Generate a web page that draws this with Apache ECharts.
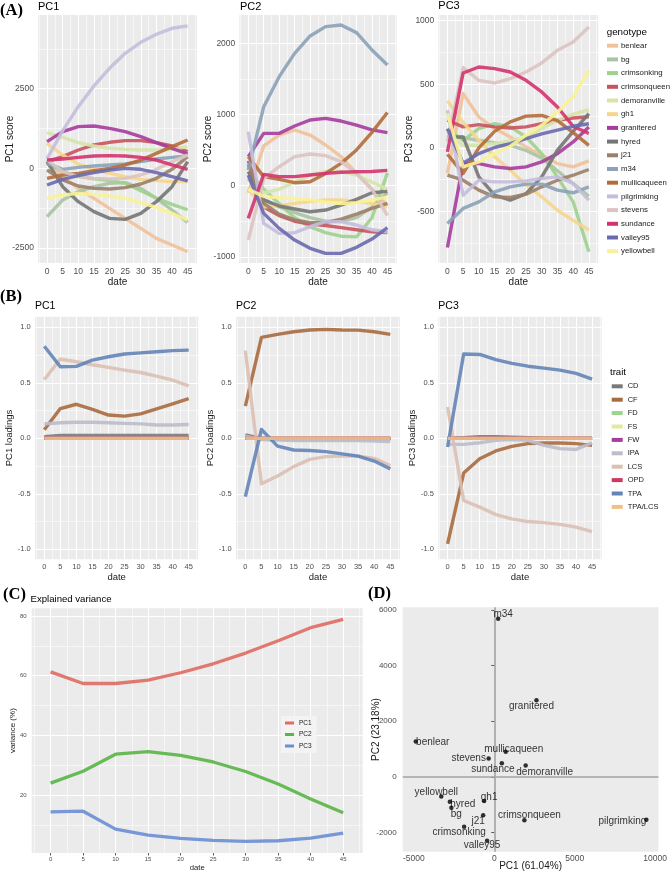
<!DOCTYPE html>
<html><head><meta charset="utf-8">
<script src="https://cdn.jsdelivr.net/npm/echarts@6/dist/echarts.min.js"></script>
<style>html,body{margin:0;padding:0;background:#fff}#c{width:670px;height:873px}</style>
</head><body><div id="c"></div><script>
// ---------- DATA ----------
const dates = [0, 5, 10, 15, 20, 25, 30, 35, 40, 45];
const genotypes = ['benlear','bg','crimsonking','crimsonqueen','demoranville','gh1','granitered','hyred','j21','m34','mullicaqueen','pilgrimking','stevens','sundance','valley95','yellowbell'];
// PC scores, one row per genotype (same order as genotypes)
const scorePC1 = [
  [209, -262, -628, -941, -1255, -1569, -1883, -2197, -2406, -2615],
  [-1517, -994, -732, -575, -470, -450, -628, -941, -1307, -1694],
  [150, -100, -250, -330, -380, -470, -700, -930, -1130, -1300],
  [209, 366, 575, 732, 816, 868, 868, 805, 700, 523],
  [1119, 973, 805, 700, 628, 596, 575, 575, 596, 680],
  [784, 418, 136, -31, -157, -262, -345, -387, -418, -418],
  [837, 1150, 1307, 1328, 1255, 1150, 994, 805, 628, 450],
  [209, -575, -1046, -1360, -1569, -1600, -1412, -1046, -575, 209],
  [-52, -366, -554, -628, -648, -607, -491, -314, -31, 366],
  [157, -31, 31, 73, 105, 136, 209, 293, 345, 387],
  [-314, -209, -157, -73, 0, 105, 261, 471, 680, 889],
  [300, 1182, 1935, 2584, 3138, 3609, 3954, 4205, 4393, 4470],
  [261, -105, -262, -314, -335, -314, -209, -31, 209, 418],
  [261, 293, 345, 387, 397, 387, 345, 261, 105, -31],
  [-523, -345, -230, -136, -52, 0, -31, -136, -262, -397],
  [-941, -837, -785, -816, -868, -941, -1077, -1224, -1412, -1621]
];
const scorePC2 = [
  [-100, 560, 712, 783, 712, 572, 408, 173, -50, -280],
  [100, -200, -300, -380, -450, -500, -500, -450, -300, -100],
  [200, -50, -250, -450, -580, -660, -710, -720, -450, 180],
  [350, -300, -420, -500, -540, -560, -590, -620, -650, -660],
  [150, -100, -50, 50, 150, 200, 200, 150, 50, -50],
  [-50, -300, -280, -250, -220, -200, -200, -220, -250, -300],
  [408, 736, 736, 839, 924, 947, 909, 853, 784, 746],
  [197, -200, -286, -328, -366, -342, -272, -192, -100, -80],
  [300, -250, -400, -480, -520, -520, -470, -400, -320, -250],
  [220, 1111, 1533, 1861, 2105, 2236, 2260, 2152, 1909, 1698],
  [408, 127, 89, 42, 56, 173, 314, 502, 750, 1030],
  [759, -530, -670, -661, -577, -506, -506, -553, -620, -650],
  [-764, 100, 267, 408, 445, 422, 338, 173, -50, -420],
  [-459, 159, 127, 127, 150, 173, 188, 197, 200, 215],
  [150, -389, -600, -764, -881, -952, -952, -867, -750, -590],
  [-50, -150, -170, -180, -200, -230, -250, -240, -200, -160]
];
const scorePC3 = [
  [-200, 427, 243, 152, 86, 8, -58, -123, -149, -102],
  [100, 80, 60, 40, 20, -20, -80, -180, -280, -380],
  [150, 60, 152, 191, 165, 86, -45, -228, -424, -816],
  [217, 165, 183, 165, 157, 165, 191, 217, 235, 245],
  [100, 21, 21, 34, 55, 86, 152, 217, 265, 300],
  [370, 200, 60, -70, -175, -290, -385, -490, -570, -645],
  [-783, -123, -123, -149, -162, -149, -110, -45, 47, 165],
  [86, 86, -228, -372, -411, -359, -228, -18, 130, 270],
  [-215, -254, -332, -385, -390, -364, -306, -254, -215, -170],
  [-594, -476, -424, -346, -306, -285, -285, -332, -353, -306],
  [-50, -200, 0, 130, 205, 250, 255, 215, 120, 20],
  [296, -372, -254, -267, -267, -259, -241, -228, -280, -411],
  [50, 631, 531, 510, 545, 597, 668, 767, 832, 950],
  [-31, 589, 636, 623, 597, 531, 440, 322, 170, 113],
  [150, -120, -45, 3, 34, 73, 110, 140, 170, 190],
  [270, -150, -110, -45, 13, 100, 178, 283, 400, 610]
];
const traits = ['CD','CF','FD','FS','FW','IPA','LCS','OPD','TPA','TPA/LCS'];
// loadings, one row per trait (same order as traits)
const loadPC1 = [
  [0.015, 0.025, 0.027, 0.027, 0.026, 0.025, 0.025, 0.025, 0.025, 0.025],
  [0.078, 0.268, 0.307, 0.26, 0.21, 0.2, 0.22, 0.265, 0.31, 0.358],
  [0, 0, 0, 0, 0, 0, 0, 0, 0, 0],
  [0, 0, 0, 0, 0, 0, 0, 0, 0, 0],
  [0, 0, 0, 0, 0, 0, 0, 0, 0, 0],
  [0.13, 0.14, 0.145, 0.145, 0.14, 0.135, 0.13, 0.12, 0.12, 0.125],
  [0.53, 0.714, 0.69, 0.663, 0.64, 0.615, 0.593, 0.56, 0.524, 0.473],
  [0, 0, 0, 0, 0, 0, 0, 0, 0, 0],
  [0.83, 0.645, 0.648, 0.705, 0.735, 0.76, 0.77, 0.78, 0.79, 0.795],
  [0, 0, 0, 0, 0, 0, 0, 0, 0, 0]
];
const loadPC2 = [
  [0.03, 0.0, -0.005, -0.005, -0.005, -0.005, -0.005, -0.005, -0.005, -0.005],
  [0.29, 0.91, 0.937, 0.96, 0.976, 0.982, 0.976, 0.975, 0.96, 0.937],
  [0, 0, 0, 0, 0, 0, 0, 0, 0, 0],
  [0, 0, 0, 0, 0, 0, 0, 0, 0, 0],
  [0, 0, 0, 0, 0, 0, 0, 0, 0, 0],
  [0.02, -0.01, -0.015, -0.02, -0.02, -0.02, -0.02, -0.02, -0.025, -0.03],
  [0.79, -0.41, -0.34, -0.255, -0.19, -0.165, -0.16, -0.16, -0.18, -0.245],
  [0, 0, 0, 0, 0, 0, 0, 0, 0, 0],
  [-0.525, 0.08, -0.07, -0.105, -0.11, -0.12, -0.14, -0.16, -0.205, -0.275],
  [0, 0, 0, 0, 0, 0, 0, 0, 0, 0]
];
const loadPC3 = [
  [0.0, 0.005, 0.015, 0.015, 0.01, 0.005, 0.0, 0.0, 0.0, 0.0],
  [-0.95, -0.313, -0.184, -0.114, -0.072, -0.048, -0.042, -0.042, -0.048, -0.063],
  [0, 0, 0, 0, 0, 0, 0, 0, 0, 0],
  [0, 0, 0, 0, 0, 0, 0, 0, 0, 0],
  [0, 0, 0, 0, 0, 0, 0, 0, 0, 0],
  [-0.054, -0.054, -0.04, -0.018, -0.01, -0.018, -0.063, -0.093, -0.1, -0.04],
  [0.283, -0.56, -0.62, -0.687, -0.726, -0.75, -0.76, -0.775, -0.8, -0.84],
  [0, 0, 0, 0, 0, 0, 0, 0, 0, 0],
  [-0.078, 0.76, 0.756, 0.71, 0.675, 0.65, 0.633, 0.615, 0.585, 0.533],
  [0, 0, 0, 0, 0, 0, 0, 0, 0, 0]
];
const varPC1 = [61.3, 57.4, 57.4, 58.5, 61, 64, 67.6, 71.7, 76.1, 78.9];
const varPC2 = [24, 28, 33.7, 34.6, 33.3, 31.1, 27.9, 23.7, 18.7, 14.1];
const varPC3 = [14.4, 14.6, 8.6, 6.6, 5.5, 4.8, 4.5, 4.7, 5.6, 7.3];
// biplot (D)
const bipNames = ['m34','granitered','benlear','mullicaqueen','stevens','sundance','demoranville','yellowbell','hyred','bg','gh1','j21','crimsonking','valley95','crimsonqueen','pilgrimking'];
const bipPC1 = [244, 2622, -4878, 713, -348, 470, 1951, -3293, -2762, -2665, -628, -689, -1872, -445, 1872, 9452];
const bipPC2 = [5687, 2754, 1271, 898, 660, 492, 409, -704, -898, -1113, -872, -1386, -1795, -2298, -1566, -1544];
// tick labels
const dateTicks = [0, 5, 10, 15, 20, 25, 30, 35, 40, 45];
const pc1ScoreTicks = [-2500, 0, 2500];
const pc2ScoreTicks = [-1000, 0, 1000, 2000];
const pc3ScoreTicks = [-500, 0, 500, 1000];
const loadTicks = [-1, -0.5, 0, 0.5, 1];
const varTicks = [20, 40, 60, 80];
const bipXTicks = [-5000, 0, 5000, 10000];
const bipYTicks = [-2000, 0, 2000, 4000, 6000];

// ---------- STYLE ----------
const FONT = "'Liberation Sans', Arial, sans-serif";
const genoColors = ['#F1C29A','#A9C4A4','#9ED28E','#C9545E','#D6E4AA','#F6D58E','#A63C9E','#767676','#9B8069','#8CA2B8','#B36D3B','#C4BEDD','#DCC4C2','#D3346E','#6A6AB0','#FAF296'];
const traitColors = ['#7A7A7A','#A86B3F','#9ED28E','#E3EAA0','#A63C9E','#BDBDCB','#DCC0B4','#C93B62','#6484B8','#F0C084'];
const varColors = ['#E06C63','#5AB547','#6C8ED4'];
const labelNudge = [[5,-4],[-5,6],[17,1],[8,-3],[-20,0],[-9,6],[19,7],[-5,-4],[13,2],[5,6],[5,-4],[-5,6],[-5,6],[-5,5],[5,-5],[-24,1]];

const grids = [
  {left:38, top:15, width:159, height:248},
  {left:239.3, top:15, width:157.4, height:248},
  {left:438.3, top:15, width:160, height:248},
  {left:35, top:316.7, width:163.3, height:242.6},
  {left:236, top:316.7, width:164, height:242.6},
  {left:438.3, top:316.7, width:163.4, height:242.6},
  {left:31.7, top:608.3, width:331, height:246.7},
  {left:402.7, top:607.3, width:260.6, height:244.4}
].map(g => Object.assign(g, {show:true, backgroundColor:'#EBEBEB', borderWidth:0}));

function axis(o) {
  return {
    type:'value', gridIndex:o.g, min:o.min, max:o.max,
    axisLine:{show:false},
    axisTick:{show:true, customValues:o.ticks, length:o.tl || 2.5, lineStyle:{color:'#333', width:0.8}},
    axisLabel:{customValues:o.ticks, formatter:o.fmt || (v => String(v)), fontSize:o.fs, color:'#4D4D4D', margin:o.margin, fontFamily:FONT},
    splitLine:{show:false},
    name:o.name, nameLocation:'middle', nameGap:o.nameGap, nameMoveOverlap:false,
    nameTextStyle:{fontSize:o.nameFs, color:'#1A1A1A', fontFamily:FONT}
  };
}
const xMin = -2.9, xMax = 48;
const xAxes = [], yAxes = [];
for (let i = 0; i < 3; i++) {
  xAxes.push(axis({g:i, min:xMin, max:xMax, ticks:dateTicks, fs:8.5, margin:4.5, name:'date', nameGap:14, nameFs:10}));
}
yAxes.push(axis({g:0, min:-2970, max:4810, ticks:pc1ScoreTicks, fs:8.5, margin:4, name:'PC1 score', nameGap:23, nameFs:10}));
yAxes.push(axis({g:1, min:-1087, max:2400, ticks:pc2ScoreTicks, fs:8.5, margin:4, name:'PC2 score', nameGap:26, nameFs:10}));
yAxes.push(axis({g:2, min:-905, max:1045, ticks:pc3ScoreTicks, fs:8.5, margin:4, name:'PC3 score', nameGap:24, nameFs:10}));
const loadNames = ['PC1 loadings','PC2 loadings','PC3 loadings'];
for (let i = 0; i < 3; i++) {
  xAxes.push(axis({g:3+i, min:xMin, max:xMax, ticks:dateTicks, fs:7.5, margin:4, name:'date', nameGap:13, nameFs:9.5}));
  yAxes.push(axis({g:3+i, min:-1.09, max:1.096, ticks:loadTicks, fs:7.5, margin:4.3, fmt:v => v.toFixed(1), name:loadNames[i], nameGap:21, nameFs:9.5}));
}
xAxes.push(axis({g:6, min:xMin, max:xMax, ticks:dateTicks, fs:6, margin:3, name:'date', nameGap:11, nameFs:7.7}));
yAxes.push(axis({g:6, min:0.6, max:82.6, ticks:varTicks, fs:6, margin:5, name:'variance (%)', nameGap:15, nameFs:8}));
xAxes.push(axis({g:7, min:-5689, max:10201, ticks:bipXTicks, fs:8.5, margin:2, tl:0.01, name:'PC1 (61.04%)', nameGap:10, nameFs:10}));
yAxes.push(axis({g:7, min:-2693, max:6097, ticks:bipYTicks, fs:8, margin:6, tl:3, name:'PC2 (23.18%)', nameGap:21, nameFs:10}));

function gridLines(idx, xs, ys, width, color, z) {
  return {
    type:'line', xAxisIndex:idx, yAxisIndex:idx, data:[], silent:true, z:z || 1,
    markLine:{silent:true, z:z || 1, symbol:['none','none'], label:{show:false}, animation:false,
      emphasis:{disabled:true},
      lineStyle:{color:color || '#FFFFFF', width:width, type:'solid', opacity:1},
      data:[...xs.map(v => ({xAxis:v})), ...ys.map(v => ({yAxis:v}))]}
  };
}
const dateMinor = [-2.5, 2.5, 7.5, 12.5, 17.5, 22.5, 27.5, 32.5, 37.5, 42.5, 47.5];
const series = [];
series.push(gridLines(0, dateTicks, pc1ScoreTicks, 1.1), gridLines(0, dateMinor, [-1250, 1250, 3750], 0.55));
series.push(gridLines(1, dateTicks, pc2ScoreTicks, 1.1), gridLines(1, dateMinor, [-500, 500, 1500], 0.55));
series.push(gridLines(2, dateTicks, pc3ScoreTicks, 1.1), gridLines(2, dateMinor, [-750, -250, 250, 750], 0.55));
for (let i = 3; i < 6; i++) {
  series.push(gridLines(i, dateTicks, loadTicks, 1.1), gridLines(i, dateMinor, [-0.75, -0.25, 0.25, 0.75], 0.55));
}
series.push(gridLines(6, dateTicks, varTicks, 1.1), gridLines(6, dateMinor, [10, 30, 50, 70], 0.55));
series.push(gridLines(7, [0], [0], 1.6, '#A3A3A3', 2));

function lineSeries(name, idx, vals, color, width) {
  return {
    type:'line', name:name, xAxisIndex:idx, yAxisIndex:idx, z:3,
    data:dates.map((d, i) => [d, vals[i]]),
    symbol:'none', showSymbol:false, silent:true, animation:false,
    lineStyle:{color:color, width:width, opacity:0.9, cap:'butt', join:'round'},
    itemStyle:{color:color}
  };
}
[scorePC1, scorePC2, scorePC3].forEach((mat, p) => {
  genotypes.forEach((g, k) => series.push(lineSeries(g, p, mat[k], genoColors[k], 3.4)));
});
[loadPC1, loadPC2, loadPC3].forEach((mat, p) => {
  traits.forEach((t, k) => series.push(lineSeries(t, 3 + p, mat[k], traitColors[k], 3.4)));
});
[varPC1, varPC2, varPC3].forEach((v, k) => series.push(lineSeries('PC' + (k + 1), 6, v, varColors[k], 3.3)));

series.push({
  type:'scatter', xAxisIndex:7, yAxisIndex:7, z:4, silent:true, animation:false,
  symbolSize:4.5, itemStyle:{color:'#000'},
  data:bipNames.map((n, i) => ({name:n, value:[bipPC1[i], bipPC2[i]], label:{offset:labelNudge[i]}})),
  label:{show:true, position:'inside', formatter:'{b}', fontSize:10, color:'#000', fontFamily:FONT}
});

function t(text, left, top, size, extra) {
  return Object.assign({text:text, left:left, top:top, padding:0,
    textStyle:{fontSize:size, fontWeight:'normal', color:'#000', fontFamily:FONT}}, extra || {});
}
const serifBold = {fontFamily:"'Liberation Serif', 'DejaVu Serif', serif", fontWeight:'bold', color:'#000'};
const titles = [
  t('(A)', 0, 2, 16.5, {textStyle:Object.assign({fontSize:16.5}, serifBold)}),
  t('PC1', 38, 1, 11), t('PC2', 240, 1, 11), t('PC3', 438.3, 0, 11),
  t('(B)', 0, 288, 16.5, {textStyle:Object.assign({fontSize:16.5}, serifBold)}),
  t('PC1', 35, 300.5, 10.5), t('PC2', 236, 300.5, 10.5), t('PC3', 438.3, 300.5, 10.5),
  t('(C)', 3, 586, 16.5, {textStyle:Object.assign({fontSize:16.5}, serifBold)}),
  t('Explained variance', 30.5, 594.5, 9.6),
  t('(D)', 368, 585, 16.5, {textStyle:Object.assign({fontSize:16.5}, serifBold)}),
  t('genotype', 606.7, 27, 9.8),
  t('trait', 610, 367.5, 9.6)
];

const legends = [
  {data:genotypes, orient:'vertical', left:607, top:40.7, padding:0, itemWidth:11, itemHeight:4, itemGap:3.7,
   icon:'rect', selectedMode:false, textStyle:{fontSize:7.8, color:'#1A1A1A', lineHeight:10, fontFamily:FONT, padding:[0,0,0,-2]}},
  {data:traits, orient:'vertical', left:611.7, top:381.3, padding:0, itemWidth:11, itemHeight:4, itemGap:3.4,
   icon:'rect', selectedMode:false, textStyle:{fontSize:7.5, color:'#1A1A1A', lineHeight:10, fontFamily:FONT}},
  {data:['PC1','PC2','PC3'], orient:'vertical', left:281, top:716, padding:[3,5,3,4], itemWidth:9, itemHeight:3, itemGap:3.5,
   icon:'rect', selectedMode:false, backgroundColor:'#F3F3F3', textStyle:{fontSize:6.5, color:'#1A1A1A', lineHeight:8, fontFamily:FONT}}
];

const chart = echarts.init(document.getElementById('c'), null, {renderer:'canvas'});
chart.setOption({
  animation:false, backgroundColor:'#FFFFFF',
  textStyle:{fontFamily:FONT},
  title:titles, legend:legends, grid:grids, xAxis:xAxes, yAxis:yAxes, series:series
});
</script></body></html>
